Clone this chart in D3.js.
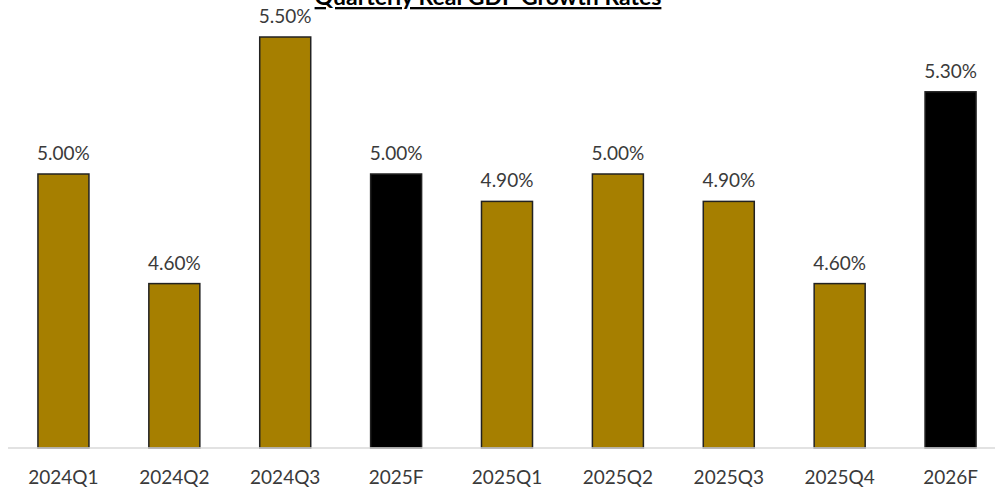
<!DOCTYPE html>
<html>
<head>
<meta charset="utf-8">
<script src="https://cdn.jsdelivr.net/npm/d3@7"></script>
<style>
  body { margin: 0; background: #fff; }
  text { font-family: Lato, "Open Sans", sans-serif; }
</style>
</head>
<body>
<div id="chart"></div>
<script>
// chart data
var categories = ["2024Q1", "2024Q2", "2024Q3", "2025F", "2025Q1", "2025Q2", "2025Q3", "2025Q4", "2026F"];
var growth = [5.0, 4.6, 5.5, 5.0, 4.9, 5.0, 4.9, 4.6, 5.3];
var isForecast = [false, false, false, true, false, false, false, false, true];

var width = 995, height = 489;

var svg = d3.select("#chart").append("svg")
    .attr("width", width)
    .attr("height", height);

var x = d3.scaleBand()
    .domain(categories)
    .range([8, 1006])
    .paddingInner(0.54)
    .paddingOuter(0.27);

var y = d3.scaleLinear()
    .domain([4.0, 5.6])
    .range([448, 448 - 1.6 * 274]);

// title - top is cut off in the source picture, kept that way
svg.append("text")
    .attr("x", 488)
    .attr("y", 5)
    .attr("text-anchor", "middle")
    .style("font-size", "23px")
    .style("font-weight", "bold")
    .style("fill", "#000")
    .style("text-decoration", "underline")
    .text("Quarterly Real GDP Growth Rates");

var data = categories.map(function(c, i) {
    return {cat: c, val: growth[i], fc: isForecast[i]};
});

svg.selectAll(".bar")
    .data(data)
    .enter().append("rect")
    .attr("class", "bar")
    .attr("x", function(d) { return x(d.cat); })
    .attr("width", x.bandwidth())
    .attr("y", function(d) { return y(d.val); })
    .attr("height", function(d) { return y(4.0) - y(d.val); })
    .style("fill", function(d) { return d.fc ? "#000" : "#a67f00"; })
    .style("stroke", "#222")
    .style("stroke-width", 1.5);

// baseline
svg.append("line")
    .attr("x1", 8).attr("x2", width)
    .attr("y1", y(4.0)).attr("y2", y(4.0))
    .style("stroke", "#d9d9d9")
    .style("stroke-width", 1.5);

// value labels
svg.selectAll(".lbl")
    .data(data)
    .enter().append("text")
    .attr("class", "lbl")
    .attr("x", function(d) { return x(d.cat) + x.bandwidth() / 2; })
    .attr("y", function(d) { return y(d.val) - 14; })
    .attr("text-anchor", "middle")
    .style("font-size", "19px")
    .style("fill", "#3a3a3a")
    .text(function(d) { return d.val.toFixed(2) + "%"; });

// category axis
var xAxis = svg.append("g")
    .attr("transform", "translate(0," + y(4.0) + ")")
    .call(d3.axisBottom(x).tickSize(0).tickPadding(23));
xAxis.select(".domain").remove();
xAxis.selectAll("text")
    .style("font-family", "Lato, sans-serif")
    .style("font-size", "19px")
    .style("fill", "#3a3a3a");
</script>
</body>
</html>
